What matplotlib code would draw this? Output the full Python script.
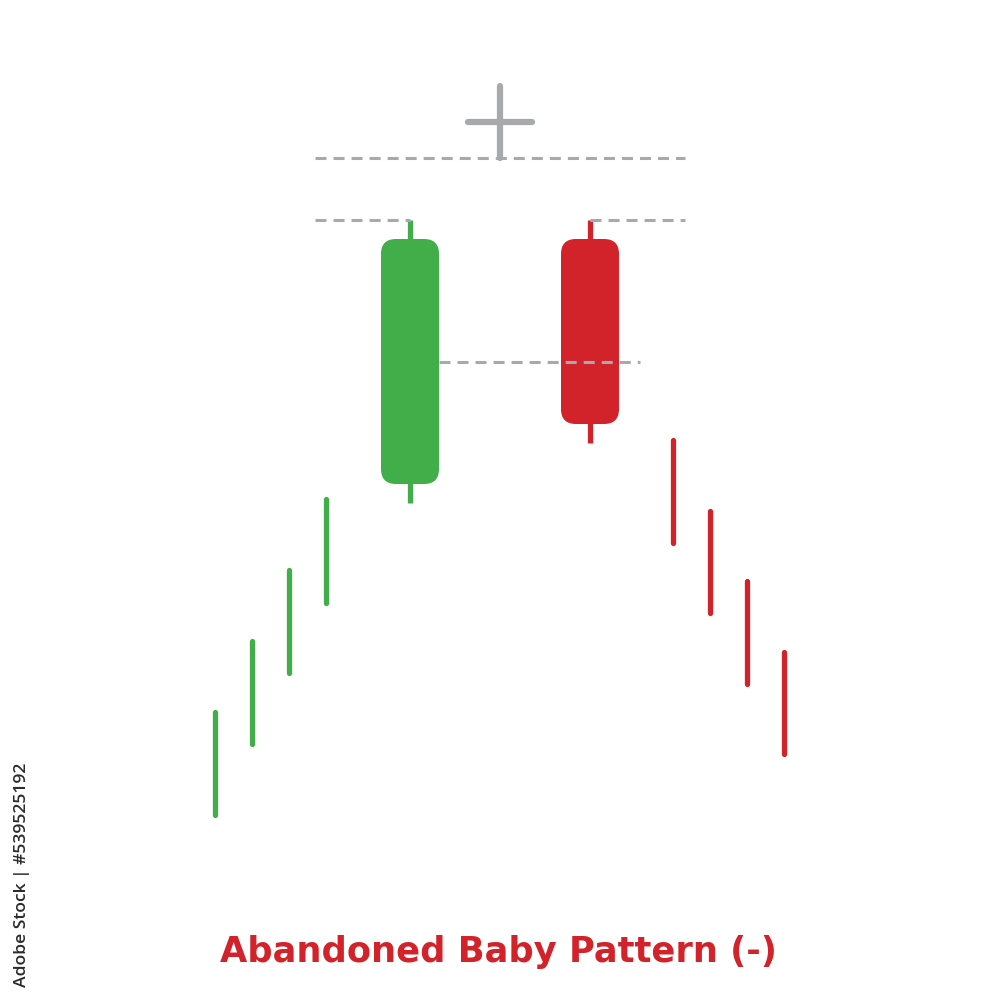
import matplotlib
matplotlib.use('Agg')
from matplotlib import pyplot as plt
from matplotlib.patches import FancyBboxPatch

# price units: height above bottom of picture
green_x = [215, 252, 289, 326]
green_high = [288, 359, 430, 501]
green_low = [185, 256, 327, 397]

red_x = [673, 710, 747, 784]
red_high = [560, 489, 419, 348]
red_low = [457, 387, 316, 246]

# the three pattern candles: open, high, low, close
cand_x = [410, 500, 590]
cand_open = [516, 878, 761]
cand_high = [780, 914, 780]
cand_low = [497, 842, 557]
cand_close = [761, 878, 576]

GREEN = '#42ae4a'
RED = '#d2232a'
GRAY = '#a7a9ac'

fig = plt.figure(figsize=(10, 10), dpi=100)
ax = fig.add_axes([0, 0, 1, 1])
ax.set_xlim(0, 1000)
ax.set_ylim(0, 1000)
ax.axis('off')

# trend lines before and after
for x, hi, lo in zip(green_x, green_high, green_low):
    ax.plot([x, x], [lo, hi], color=GREEN, lw=3.8, solid_capstyle='round')
for x, hi, lo in zip(red_x, red_high, red_low):
    ax.plot([x, x], [lo, hi], color=RED, lw=3.8, solid_capstyle='round')

# dashed reference lines
dash = dict(color=GRAY, lw=2.2, linestyle=(0, (3.6, 2.3)), zorder=5)
ax.plot([315, 685], [cand_low[1], cand_low[1]], **dash)
ax.plot([315, cand_x[0]], [cand_high[0], cand_high[0]], **dash)
ax.plot([cand_x[2], 685], [cand_high[2], cand_high[2]], **dash)
mid = (cand_open[0] + cand_close[0]) / 2
ax.plot([cand_x[0] + 29, 640], [mid, mid], **dash)

# green and red candles
body_w = 58
for i in [0, 2]:
    col = GREEN if cand_close[i] > cand_open[i] else RED
    x = cand_x[i]
    ax.plot([x, x], [cand_low[i], cand_high[i]], color=col, lw=3.8, solid_capstyle='butt', zorder=2)
    lo = min(cand_open[i], cand_close[i])
    hi = max(cand_open[i], cand_close[i])
    r = 15
    box = FancyBboxPatch((x - body_w / 2 + r, lo + r), body_w - 2 * r, hi - lo - 2 * r,
                         boxstyle='round,pad=%d' % r, fc=col, ec='none', zorder=3)
    ax.add_patch(box)

# doji cross
x = cand_x[1]
ax.plot([x, x], [cand_low[1], cand_high[1]], color=GRAY, lw=4.5, solid_capstyle='round', zorder=6)
ax.plot([x - 32, x + 32], [cand_open[1], cand_close[1]], color=GRAY, lw=4.5, solid_capstyle='round', zorder=6)

fig.text(0.4985, 0.048, 'Abandoned Baby Pattern (-)', color=RED, fontsize=25.4,
         fontweight='bold', ha='center', va='center', family='DejaVu Sans')
fig.text(0.022, 0.125, 'Adobe Stock | #539525192', color='#2b2b2b', fontsize=12.6,
         fontweight='semibold', rotation=90, ha='center', va='center', family='Open Sans')

fig.savefig('out.png', dpi=100, facecolor='white')
